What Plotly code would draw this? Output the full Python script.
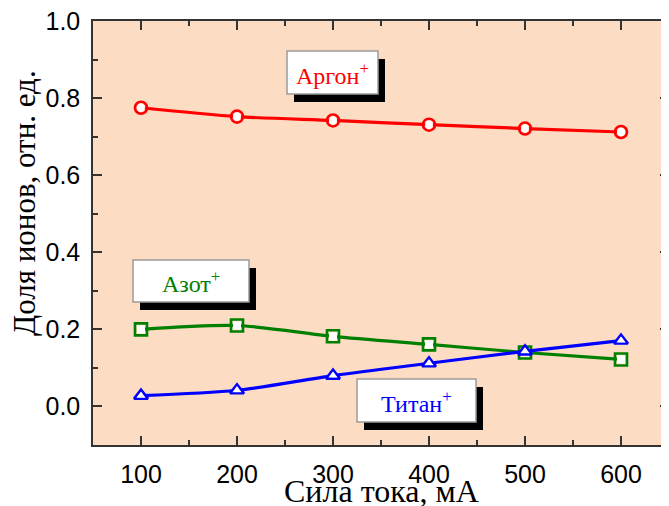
import plotly.graph_objects as go

current = [100, 200, 300, 400, 500, 600]
argon = [0.775, 0.752, 0.742, 0.731, 0.721, 0.712]
azot = [0.200, 0.210, 0.182, 0.161, 0.140, 0.122]
titan = [0.028, 0.042, 0.080, 0.112, 0.143, 0.171]

x_ticks = [100, 200, 300, 400, 500, 600]
y_ticks = [0.0, 0.2, 0.4, 0.6, 0.8, 1.0]

# the page body has an 8px margin, so the figure is drawn 8px in from the corner
OFF = 8
W, H = 669 - OFF, 506 - OFF
L, R, T, B = 93 - OFF, 0, 21 - OFF, 61
PW, PH = W - L - R, H - T - B

def px(x):
    return (x - OFF - L) / PW

def py(y):
    return (H - B - (y - OFF)) / PH

fig = go.Figure()
series = [
    (argon, "red", "circle-open", "Аргон"),
    (azot, "green", "square-open", "Азот"),
    (titan, "blue", "triangle-up-open", "Титан"),
]
for vals, col, sym, name in series:
    fig.add_trace(go.Scatter(
        x=current, y=vals, mode="lines+markers", name=name,
        line=dict(color=col, width=3.2, shape="spline", smoothing=0.8),
        marker=dict(symbol=sym, size=12, color=col, line=dict(color=col, width=2.6)),
        showlegend=False,
    ))
    fig.add_trace(go.Scatter(
        x=current, y=vals, mode="markers",
        marker=dict(symbol=sym.replace("-open", ""), size=8,
                    color="white", line=dict(width=0)),
        showlegend=False, hoverinfo="skip",
    ))

boxes = [
    (287, 51, 378, 94, "Аргон<sup>+</sup>", "red"),
    (133, 260, 249, 302, "Азот<sup>+</sup>", "green"),
    (357, 379, 476, 422, "Титан<sup>+</sup>", "blue"),
]
shapes = []
annotations = []
for x0, y0, x1, y1, txt, col in boxes:
    shapes.append(dict(type="rect", xref="paper", yref="paper",
                       x0=px(x0 + 7), x1=px(x1 + 7), y0=py(y1 + 8), y1=py(y0 + 8),
                       fillcolor="black", line=dict(width=0), layer="above"))
    shapes.append(dict(type="rect", xref="paper", yref="paper",
                       x0=px(x0), x1=px(x1), y0=py(y1), y1=py(y0),
                       fillcolor="white", line=dict(color="#9a9a9a", width=1.5), layer="above"))
    annotations.append(dict(xref="paper", yref="paper", x=px((x0 + x1) / 2), y=py((y0 + y1) / 2 + 1),
                            text=txt, showarrow=False, xanchor="center", yanchor="middle",
                            font=dict(family="Liberation Serif", size=24, color=col)))

annotations.append(dict(xref="paper", yref="paper", x=px(381), y=py(491), text="Сила тока, мА",
                        showarrow=False, xanchor="center", yanchor="middle",
                        font=dict(family="Liberation Serif", size=32, color="black")))
annotations.append(dict(xref="paper", yref="paper", x=px(25), y=py(203), text="Доля ионов, отн. ед.",
                        showarrow=False, xanchor="center", yanchor="middle", textangle=-90,
                        font=dict(family="Liberation Serif", size=31, color="black")))

axis_common = dict(
    showline=True, linecolor="#333333", linewidth=1.5, mirror="ticks",
    ticks="inside", ticklen=9, tickwidth=1.5, tickcolor="#333333",
    showgrid=False, zeroline=False, automargin=False, ticklabeloverflow="allow",
    tickfont=dict(family="Liberation Sans", size=25, color="black"),
)
fig.update_xaxes(range=[50, 650], tickvals=x_ticks, ticklabelstandoff=6,
                 minor=dict(ticks="inside", ticklen=5, tickwidth=1.5, tickcolor="#333333", dtick=50, tick0=50),
                 **axis_common)
fig.update_yaxes(range=[-0.1, 1.0], tickvals=y_ticks, tickformat=".1f", ticklabelstandoff=6,
                 minor=dict(ticks="inside", ticklen=5, tickwidth=1.5, tickcolor="#333333", dtick=0.1, tick0=0),
                 **axis_common)

fig.update_layout(
    width=W, height=H, margin=dict(l=L, r=R, t=T, b=B, autoexpand=False),
    plot_bgcolor="#FCDCC3", paper_bgcolor="white",
    shapes=shapes, annotations=annotations,
)
fig.write_html("out.html")
